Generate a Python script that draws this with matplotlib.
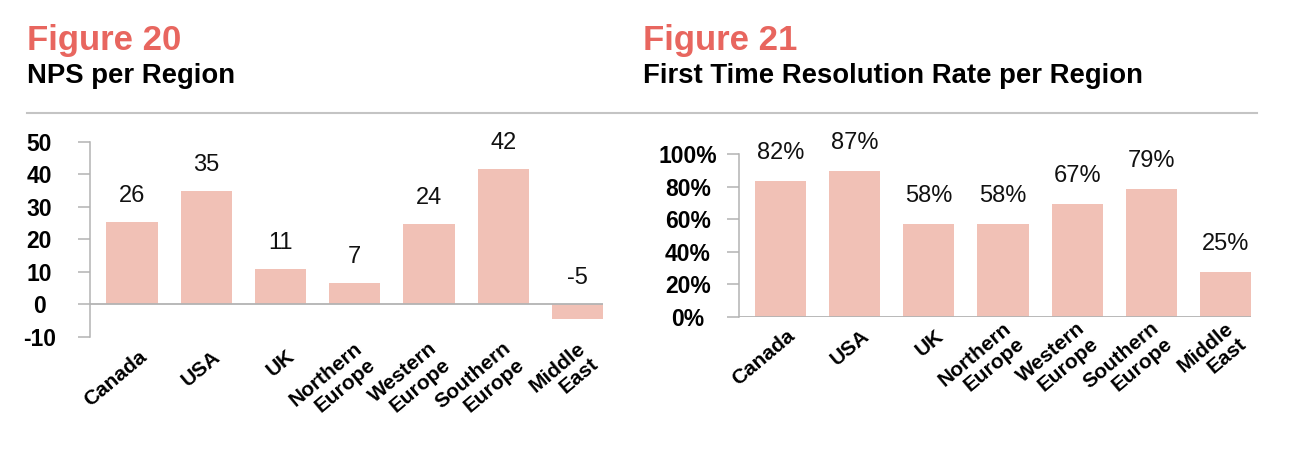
import numpy as np
import matplotlib
matplotlib.use("Agg")
import matplotlib.pyplot as plt
import matplotlib.transforms as mtransforms

plt.rcParams['font.family'] = ['Liberation Sans', 'DejaVu Sans']

# data
regions = ['Canada', 'USA', 'UK', 'Northern\nEurope', 'Western\nEurope',
           'Southern\nEurope', 'Middle\nEast']

nps_values = [25.3, 35.0, 10.8, 6.6, 24.7, 41.6, -4.5]
nps_labels = ['26', '35', '11', '7', '24', '42', '-5']
nps_ticks = [-10, 0, 10, 20, 30, 40, 50]

ftr_values = [83.5, 89.5, 57.0, 57.0, 69.5, 78.5, 27.5]
ftr_labels = ['82%', '87%', '58%', '58%', '67%', '79%', '25%']
ftr_ticks = [0, 20, 40, 60, 80, 100]
ftr_ticklabels = ['0%', '20%', '40%', '60%', '80%', '100%']

BAR = '#f1c1b6'
RED = '#e8665f'
GRAY = '#b3b3b3'

W, H = 1294, 466
fig = plt.figure(figsize=(W / 100, H / 100), dpi=100)


def px(x0, y_top, x1, y_bot):
    # pixel box -> figure fraction rect
    return [x0 / W, 1 - y_bot / H, (x1 - x0) / W, (y_bot - y_top) / H]


def draw_chart(ax, values, labels, ticks, ticklabels, ylim, label_off):
    x = np.arange(len(values))
    ax.bar(x, values, width=0.69, color=BAR, zorder=2)
    ax.set_xlim(-0.565, len(values) - 1 + 0.345)
    ax.set_ylim(*ylim)
    for s in ['top', 'right', 'bottom']:
        ax.spines[s].set_visible(False)
    ax.spines['left'].set_color(GRAY)
    ax.spines['left'].set_linewidth(1.1)
    ax.axhline(0, color=GRAY, lw=1.3, zorder=3)
    ax.set_yticks(ticks)
    ax.set_yticklabels(ticklabels, fontsize=16.5, fontweight='bold')
    for lbl in ax.get_yticklabels():
        lbl.set_horizontalalignment('center')
    ax.tick_params(axis='y', length=8.6, width=1.1, color=GRAY, pad=28)
    ax.set_xticks([])

    for xi, v, t in zip(x, values, labels):
        ax.annotate(t, (xi, max(v, 0)), xytext=(0, label_off),
                    textcoords='offset pixels', ha='center', va='center',
                    fontsize=17, color='#111111')

    off = mtransforms.ScaledTranslation(12 / 100, -17 / 100, fig.dpi_scale_trans)
    for xi, name in zip(x, regions):
        ax.text(xi, 0, name, transform=ax.get_xaxis_transform() + off,
                rotation=40, rotation_mode='anchor', ha='right', va='center',
                fontsize=15, fontweight='bold', linespacing=1.1)


ax1 = fig.add_axes(px(90, 141.7, 603, 337))
draw_chart(ax1, nps_values, nps_labels, nps_ticks,
           [str(t) for t in nps_ticks], (-10, 50), 26)

ax2 = fig.add_axes(px(738.7, 154, 1251, 316.7))
draw_chart(ax2, ftr_values, ftr_labels, ftr_ticks, ftr_ticklabels, (0, 100), 28)

# headers
fig.text(27 / W, 1 - 50 / H, 'Figure 20', color=RED, fontsize=25,
         fontweight='bold', va='baseline')
fig.text(27 / W, 1 - 83 / H, 'NPS per Region', fontsize=19.8,
         fontweight='bold', va='baseline')
fig.text(643 / W, 1 - 50 / H, 'Figure 21', color=RED, fontsize=25,
         fontweight='bold', va='baseline')
fig.text(643 / W, 1 - 83 / H, 'First Time Resolution Rate per Region',
         fontsize=19.8, fontweight='bold', va='baseline')

fig.add_artist(plt.Line2D([27 / W, 1257 / W], [1 - 113 / H, 1 - 113 / H],
                          color='#c4c4c4', lw=1.5))

fig.savefig('out.png', dpi=100)
